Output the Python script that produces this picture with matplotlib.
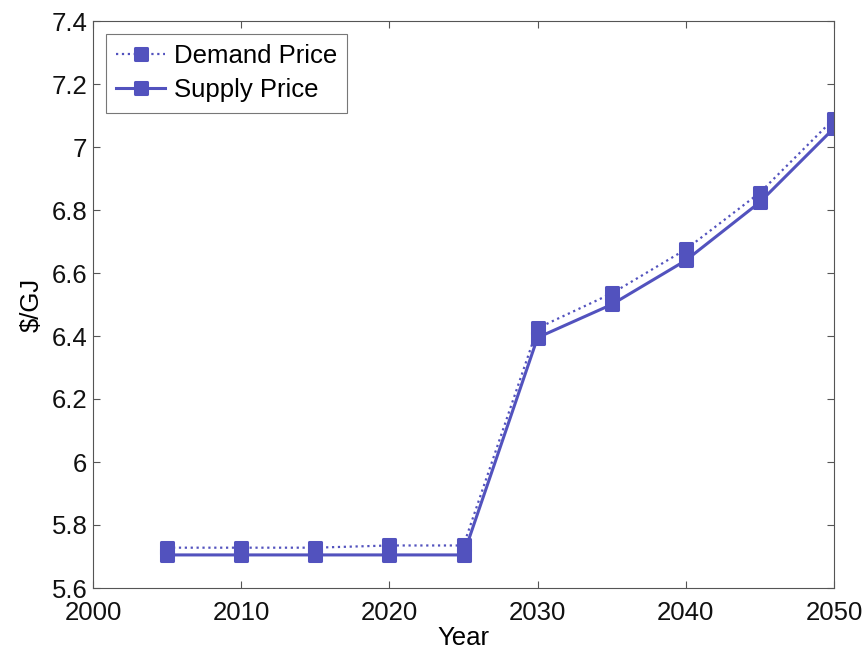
import matplotlib
matplotlib.use("Agg")
import matplotlib.pyplot as plt
from matplotlib.markers import MarkerStyle

years = [2005, 2010, 2015, 2020, 2025, 2030, 2035, 2040, 2045, 2050]
demand_price = [5.728, 5.728, 5.728, 5.735, 5.735, 6.425, 6.535, 6.675, 6.855, 7.09]
supply_price = [5.705, 5.705, 5.705, 5.705, 5.705, 6.395, 6.50, 6.64, 6.825, 7.06]
xticks = [2000, 2010, 2020, 2030, 2040, 2050]
yticks = [5.6, 5.8, 6.0, 6.2, 6.4, 6.6, 6.8, 7.0, 7.2, 7.4]
ytick_labels = ["5.6", "5.8", "6", "6.2", "6.4", "6.6", "6.8", "7", "7.2", "7.4"]

plt.rcParams['font.family'] = ['Liberation Sans', 'DejaVu Sans']
color = '#5252BE'
fs = 18.5

fig = plt.figure(figsize=(8.67, 6.53), dpi=100)
ax = fig.add_axes([93/867, 1-588/653, 741/867, 567/653])

mk = MarkerStyle('s', joinstyle='round')
ax.plot(years, demand_price, linestyle=':', color=color, linewidth=1.6,
        marker=mk, markersize=9, markeredgewidth=2.2, markerfacecolor=color, markeredgecolor=color,
        label='Demand Price')
ax.plot(years, supply_price, linestyle='-', color=color, linewidth=2.2,
        marker=mk, markersize=9, markeredgewidth=2.2, markerfacecolor=color, markeredgecolor=color,
        label='Supply Price')

ax.set_xlim(2000, 2050)
ax.set_ylim(5.6, 7.4)
ax.set_xticks(xticks)
ax.set_yticks(yticks)
ax.set_yticklabels(ytick_labels)
ax.tick_params(direction='in', top=True, right=True, labelsize=fs, length=5, width=0.8,
               colors='#555555', labelcolor='#111111', pad=4)
ax.tick_params(axis='x', pad=9)
for s in ax.spines.values():
    s.set_color('#555555')
    s.set_linewidth(0.8)
ax.set_xlabel('Year', fontsize=fs, labelpad=1)
ax.set_ylabel('$/GJ', fontsize=fs, labelpad=6)

leg = ax.legend(loc='upper left', fontsize=fs, frameon=True, fancybox=False,
                edgecolor='#555555', handlelength=1.9, borderpad=0.4,
                labelspacing=0.4, handletextpad=0.35, borderaxespad=0.5)
leg.get_frame().set_linewidth(0.8)

fig.savefig('out.png', dpi=100)
